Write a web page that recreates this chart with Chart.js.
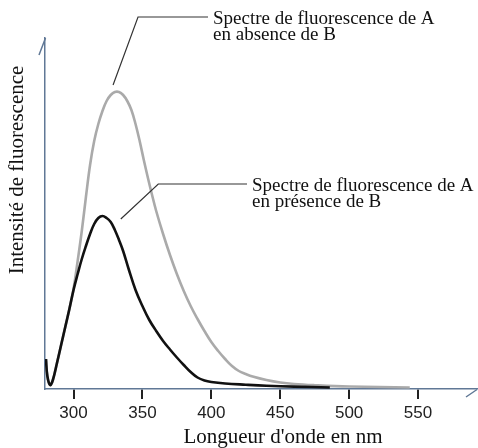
<!DOCTYPE html>
<html lang="fr">
<head>
<meta charset="utf-8">
<title>Spectres de fluorescence de A</title>
<script src="https://cdn.jsdelivr.net/npm/chart.js@4/dist/chart.umd.min.js"></script>
<style>
  html, body { margin: 0; padding: 0; background: #fff; }
  canvas { display: block; }
</style>
</head>
<body>
<canvas id="spectra" width="478" height="448"></canvas>
<script>
  // emission spectrum of A with B present (black curve)
  const presenceNm = [280, 281, 283, 285, 288, 291, 294, 297, 300, 303, 306, 309, 312, 315, 318, 321, 324, 327, 330, 333, 336, 340, 345, 350, 355, 360, 365, 370, 375, 380, 385, 390, 395, 400, 410, 425, 440, 460, 486];
  const presenceI = [30, 13, 4, 9, 26, 44, 62, 80, 99, 115, 130, 143, 155, 165, 171, 173, 171, 167, 159, 149, 138, 120, 99, 83, 69, 58, 48, 39.5, 31.5, 24, 17, 11.5, 8.5, 7, 5.5, 4.3, 3.3, 2.4, 1.5];

  // emission spectrum of A without B (grey curve)
  const absenceNm = [280, 281, 283, 285, 288, 291, 294, 297, 300, 303, 306, 309, 312, 315, 318, 321, 324, 327, 330, 333, 336, 339, 342, 345, 348, 351, 354, 357, 360, 365, 370, 375, 380, 385, 390, 395, 400, 405, 410, 415, 420, 425, 430, 440, 450, 460, 475, 500, 544];
  const absenceI = [30, 13, 4, 9, 26, 44, 62, 80, 100, 128, 158, 192, 224, 248, 265, 278, 288, 294, 297, 297, 294, 288, 279, 265, 248, 229, 211, 194, 178, 155, 134, 115, 98, 83, 70, 58, 47, 38, 30, 23, 18, 15, 12.5, 9, 6.5, 5, 3.8, 2.5, 1.5];

  const tickNm = [300, 350, 400, 450, 500, 550];

  const xTitle = `Longueur d'onde en nm`;
  const yTitle = `Intensité de fluorescence`;

  // callouts: leader tip and elbow in data units, caption lines after the elbow run
  const notes = [
    { tip: [328.7, 304], elbow: [346.8, 372], end: 397.6, lines: [`Spectre de fluorescence de A`, `en absence de B`] },
    { tip: [334.3, 170], elbow: [361.5, 205], end: 425.9, lines: [`Spectre de fluorescence de A`, `en présence de B`] },
  ];

  (() => {
    ("use strict");

    const serif = `"Liberation Serif", "Times New Roman", serif`;
    const sans = `"Liberation Sans", Arial, sans-serif`;
    const axisColor = `rgb(96, 120, 150)`;

    const toPoints = (xs, ys) => xs.map((v, i) => ({ x: v, y: ys[i] }));

    const notesPlugin = {
      id: `notes`,
      afterDraw(chart) {
        const { ctx, chartArea: area, scales } = chart;
        const px = (v) => scales.x.getPixelForValue(v);
        const py = (v) => scales.y.getPixelForValue(v);
        ctx.save();

        // leader lines and captions
        ctx.strokeStyle = `#333`;
        ctx.lineWidth = 1.2;
        ctx.fillStyle = `#111`;
        ctx.font = `19px ${serif}`;
        ctx.textAlign = `left`;
        ctx.textBaseline = `alphabetic`;
        notes.forEach((n) => {
          const ey = py(n.elbow[1]);
          ctx.beginPath();
          ctx.moveTo(px(n.tip[0]), py(n.tip[1]));
          ctx.lineTo(px(n.elbow[0]), ey);
          ctx.lineTo(px(n.end), ey);
          ctx.stroke();
          n.lines.forEach((t, i) => {
            ctx.fillText(t, px(n.end) + 5, ey + 7 + i * 16);
          });
        });

        // axis titles
        ctx.font = `21px ${serif}`;
        ctx.textAlign = `center`;
        ctx.textBaseline = `middle`;
        ctx.fillText(xTitle, area.left + 238, 437);
        ctx.save();
        ctx.translate(17, 170);
        ctx.rotate(-Math.PI / 2);
        ctx.fillText(yTitle, 0, 0);
        ctx.restore();

        // slanted strokes at the open ends of both axes
        ctx.strokeStyle = axisColor;
        ctx.lineWidth = 1.5;
        ctx.beginPath();
        ctx.moveTo(area.left + 0.5, area.top);
        ctx.lineTo(area.left - 6, area.top + 17);
        ctx.moveTo(area.right, area.bottom + 0.5);
        ctx.lineTo(area.right - 11, area.bottom + 8);
        ctx.stroke();

        ctx.restore();
      },
    };

    const cfg = {
      type: `scatter`,
      data: {
        datasets: [
          {
            label: `en présence de B`,
            data: toPoints(presenceNm, presenceI),
            showLine: true,
            borderColor: `#111`,
            borderWidth: 2.6,
            pointRadius: 0,
            tension: 0.4,
          },
          {
            label: `en absence de B`,
            data: toPoints(absenceNm, absenceI),
            showLine: true,
            borderColor: `#aaaaaa`,
            borderWidth: 2.6,
            pointRadius: 0,
            tension: 0.4,
          },
        ],
      },
      options: {
        responsive: false,
        animation: false,
        layout: {
          padding: { top: 38, right: 1, bottom: 0, left: 0 },
        },
        plugins: {
          legend: { display: false },
          tooltip: { enabled: false },
        },
        scales: {
          x: {
            type: `linear`,
            min: 279.3,
            max: 592.8,
            afterBuildTicks: (scale) => {
              scale.ticks = tickNm.map((v) => ({ value: v }));
            },
            afterFit: (scale) => {
              scale.height = 59;
            },
            grid: {
              display: true,
              drawOnChartArea: false,
              drawTicks: true,
              tickLength: 10,
              color: `#222`,
              lineWidth: 2,
            },
            border: { display: true, color: axisColor, width: 1.5 },
            ticks: {
              color: `#222`,
              padding: 4,
              maxRotation: 0,
              font: { family: sans, size: 17 },
            },
          },
          y: {
            type: `linear`,
            min: 0,
            max: 351,
            afterFit: (scale) => {
              scale.width = 45;
            },
            grid: { display: false },
            border: { display: true, color: axisColor, width: 1.5 },
            ticks: { display: false },
          },
        },
      },
      plugins: [notesPlugin],
    };

    const chart = new Chart(document.getElementById(`spectra`), cfg);
  })();
</script>
</body>
</html>
